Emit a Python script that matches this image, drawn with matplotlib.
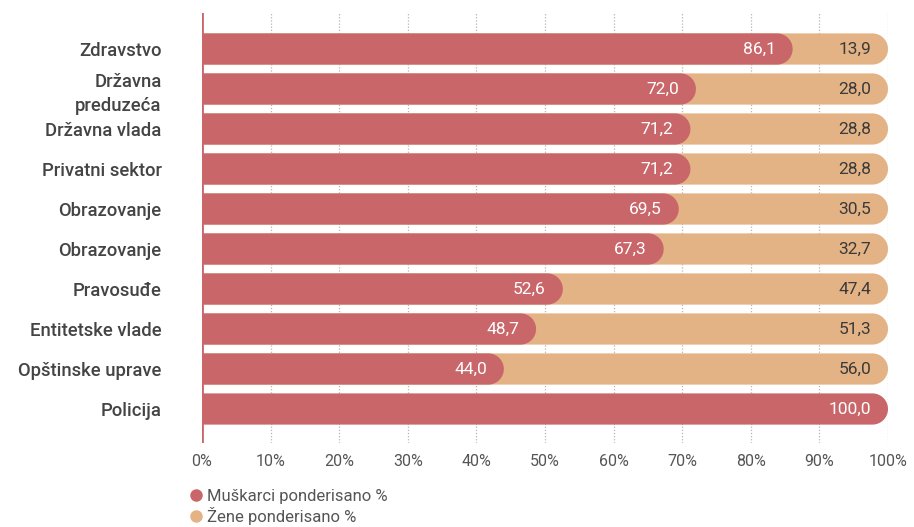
import numpy as np
import matplotlib
matplotlib.use("Agg")
import matplotlib.pyplot as plt
from matplotlib.path import Path
from matplotlib.patches import PathPatch
from matplotlib.lines import Line2D

plt.rcParams['font.family'] = ['Roboto', 'DejaVu Sans']

categories = ["Zdravstvo", "Državna\npreduzeća", "Državna vlada", "Privatni sektor",
              "Obrazovanje", "Obrazovanje", "Pravosuđe", "Entitetske vlade",
              "Opštinske uprave", "Policija"]
muskarci = [86.1, 72.0, 71.2, 71.2, 69.5, 67.3, 52.6, 48.7, 44.0, 100.0]
zene = [13.9, 28.0, 28.8, 28.8, 30.5, 32.7, 47.4, 51.3, 56.0, 0.0]
xticks = [0, 10, 20, 30, 40, 50, 60, 70, 80, 90, 100]
xticklabels = [f"{t}%" for t in xticks]
legend_labels = ["Muškarci ponderisano %", "Žene ponderisano %"]

C_MEN = "#c9666a"
C_WOMEN = "#e3b385"

W, H = 914, 527
fig = plt.figure(figsize=(W / 100, H / 100), dpi=100)
ax_l, ax_r, ax_t, ax_b = 202, 888, 13, 443
ax = fig.add_axes([ax_l / W, (H - ax_b) / H, (ax_r - ax_l) / W, (ax_b - ax_t) / H])

ylim = (len(categories) - 1 + 0.85, -0.9)
ax.set_xlim(0, 100)
ax.set_ylim(*ylim)

# pixel scale of data units
sx = (ax_r - ax_l) / 100.0
sy = (ax_b - ax_t) / (ylim[0] - ylim[1])
bar_h = 0.78
r_px = bar_h * sy / 2


def rounded_bar(x0, x1, yc, color, z):
    """Bar with square left edge and semicircular right end."""
    r = r_px / sx
    hh = bar_h / 2
    xc = max(x1 - r, x0)
    t = np.linspace(-np.pi / 2, np.pi / 2, 40)
    arc_x = xc + r_px * np.cos(t) / sx
    arc_y = yc + r_px * np.sin(t) / sy
    verts = [(x0, yc - hh)] + list(zip(arc_x, arc_y)) + [(x0, yc + hh), (x0, yc - hh)]
    codes = [Path.MOVETO] + [Path.LINETO] * (len(verts) - 2) + [Path.CLOSEPOLY]
    ax.add_patch(PathPatch(Path(verts, codes), facecolor=color, edgecolor="none", zorder=z))


for i, (m, w) in enumerate(zip(muskarci, zene)):
    if w > 0:
        rounded_bar(0, m + w, i, C_WOMEN, 2)
        ax.annotate(f"{w:.1f}".replace(".", ","), xy=(m + w, i), xytext=(-17, 0),
                    textcoords="offset pixels", ha="right", va="center",
                    fontsize=12.5, color="#3a3a3a", zorder=5)
    rounded_bar(0, m, i, C_MEN, 3)
    ax.annotate(f"{m:.1f}".replace(".", ","), xy=(m, i), xytext=(-17, 0),
                textcoords="offset pixels", ha="right", va="center",
                fontsize=12.5, color="white", zorder=5)

# dotted vertical gridlines
for t in xticks[1:]:
    ax.axvline(t, color="#b5b5b5", linestyle=(0, (1, 1.5)), linewidth=0.9, zorder=1)
ax.axvline(0, color=C_MEN, linewidth=2, zorder=4)

for s in ax.spines.values():
    s.set_visible(False)
ax.set_xticks(xticks)
ax.set_xticklabels(xticklabels, fontsize=11.5, color="#555555")
ax.tick_params(axis="x", length=0, pad=8)
ax.set_yticks(range(len(categories)))
ax.set_yticklabels(categories, fontsize=13.3, color="#444444", fontweight="medium",
                   linespacing=1.4)
ax.tick_params(axis="y", length=0, pad=29)

# legend
handles = [Line2D([], [], marker="o", linestyle="none", markersize=9,
                  markerfacecolor=c, markeredgecolor="none") for c in (C_MEN, C_WOMEN)]
leg = fig.legend(handles, legend_labels, loc="upper left",
                 bbox_to_anchor=(191 / W, 1 - 489 / H), frameon=False,
                 fontsize=12, labelcolor="#555555", handlelength=0.6,
                 handletextpad=0.35, labelspacing=0.2, borderpad=0, borderaxespad=0)

fig.savefig("out.png", dpi=100)
